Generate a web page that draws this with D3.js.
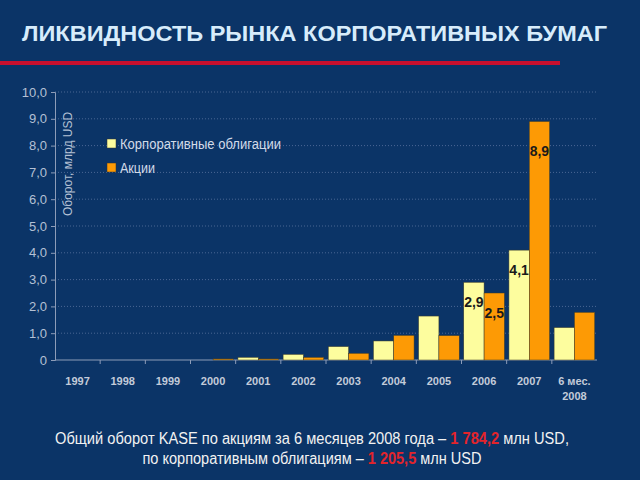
<!DOCTYPE html>
<html>
<head>
<meta charset="utf-8">
<title>Ликвидность рынка корпоративных бумаг</title>
<script src="https://cdnjs.cloudflare.com/ajax/libs/d3/7.8.5/d3.min.js"></script>
<style>
  body { margin: 0; background: #0b3467; }
  svg { display: block; font-family: "Liberation Sans", Arial, sans-serif; }
</style>
</head>
<body>
<svg id="chart" width="640" height="480"></svg>
<script>
    // data (млрд USD)
    var years = ["1997", "1998", "1999", "2000", "2001", "2002", "2003", "2004", "2005", "2006", "2007", "6 мес.|2008"];
    var bonds = [0, 0, 0, 0, 0.1, 0.21, 0.5, 0.71, 1.64, 2.9, 4.1, 1.21];
    var stocks = [0, 0, 0, 0.04, 0.04, 0.1, 0.25, 0.92, 0.91, 2.5, 8.9, 1.78];
    var bondLabels = [null, null, null, null, null, null, null, null, null, "2,9", "4,1", null];
    var stockLabels = [null, null, null, null, null, null, null, null, null, "2,5", "8,9", null];
    var yTicks = [0, 1, 2, 3, 4, 5, 6, 7, 8, 9, 10];
    var seriesNames = ["Корпоративные облигации", "Акции"];
    var colors = ["#fdfd9e", "#fd9a05"];

    var svg = d3.select("#chart");

    svg.append("rect").attr("width", 640).attr("height", 480).attr("fill", "#0b3467");

    // title + red rule
    svg.append("text")
        .attr("x", 22).attr("y", 41)
        .attr("font-size", 22).attr("font-weight", "bold")
        .attr("fill", "#d7ecfb")
        .attr("textLength", 585).attr("lengthAdjust", "spacingAndGlyphs")
        .text("ЛИКВИДНОСТЬ РЫНКА КОРПОРАТИВНЫХ БУМАГ");

    svg.append("rect").attr("x", 0).attr("y", 61).attr("width", 560).attr("height", 4).attr("fill", "#c8102e");

    var plotLeft = 55, plotRight = 597, plotTop = 92, plotBottom = 360;

    var x0 = d3.scaleBand().domain(years).range([plotLeft, plotRight]).paddingInner(0.1).paddingOuter(0.05);
    var x1 = d3.scaleBand().domain([0, 1]).range([0, x0.bandwidth()]);
    var y = d3.scaleLinear().domain([0, 10]).range([plotBottom, plotTop]);

    // dotted grid
    svg.append("g").selectAll("line").data(yTicks.filter(function(d) { return d > 0; }))
        .enter().append("line")
        .attr("x1", plotLeft).attr("x2", plotRight)
        .attr("y1", function(d) { return y(d); }).attr("y2", function(d) { return y(d); })
        .attr("stroke", "#5a74a0").attr("stroke-width", 0.8)
        .attr("stroke-dasharray", "1,2");

    // y axis
    var yAxis = d3.axisLeft(y).tickValues(yTicks).tickSize(4)
        .tickFormat(function(d) { return d === 0 ? "0" : d3.format(".1f")(d).replace(".", ","); });
    var gy = svg.append("g").attr("transform", "translate(" + plotLeft + ",0)").call(yAxis);
    gy.select(".domain").attr("stroke", "#8d9cb8");
    gy.selectAll(".tick line").attr("stroke", "#8d9cb8");
    gy.selectAll(".tick text").attr("fill", "#b4c0d4").attr("font-size", 13).attr("x", -8)
        .attr("font-family", "'Liberation Sans Narrow', 'Liberation Sans', Arial, sans-serif");

    // x axis
    var gx = svg.append("g").attr("transform", "translate(0," + plotBottom + ")");
    gx.append("line").attr("x1", plotLeft).attr("x2", plotRight).attr("stroke", "#8d9cb8");
    gx.selectAll("line.sep").data(years.slice(1)).enter().append("line")
        .attr("class", "sep")
        .attr("x1", function(d) { return x0(d) - x0.step() * x0.paddingInner() / 2; })
        .attr("x2", function(d) { return x0(d) - x0.step() * x0.paddingInner() / 2; })
        .attr("y1", 0).attr("y2", 4)
        .attr("stroke", "#8d9cb8");
    var xl = gx.selectAll("text").data(years).enter().append("text")
        .attr("x", function(d) { return x0(d) + x0.bandwidth() / 2; })
        .attr("y", 25)
        .attr("text-anchor", "middle")
        .attr("font-size", 11).attr("font-weight", "bold")
        .attr("fill", "#c3cbd9");
    xl.each(function(d) {
        var parts = d.split("|");
        var t = d3.select(this);
        parts.forEach(function(p, i) {
            t.append("tspan").attr("x", t.attr("x")).attr("dy", i === 0 ? 0 : 15).text(p);
        });
    });

    // bars
    var series = [bonds, stocks];
    var labels = [bondLabels, stockLabels];
    series.forEach(function(vals, s) {
        svg.append("g").selectAll("rect").data(vals).enter().append("rect")
            .attr("x", function(d, i) { return x0(years[i]) + x1(s); })
            .attr("width", x1.bandwidth())
            .attr("y", function(d) { return y(d); })
            .attr("height", function(d) { return plotBottom - y(d); })
            .attr("fill", colors[s])
            .attr("stroke", "#3a3a2a").attr("stroke-width", 0.5)
            .attr("opacity", function(d) { return d > 0 ? 1 : 0; });

        svg.append("g").selectAll("text").data(vals).enter().append("text")
            .attr("x", function(d, i) { return x0(years[i]) + x1(s) + x1.bandwidth() / 2; })
            .attr("y", function(d) { return y(d) + (d > 5 ? 35 : 25); })
            .attr("text-anchor", "middle")
            .attr("font-size", 14).attr("font-weight", "bold")
            .attr("fill", "#1a1a1a")
            .text(function(d, i) { return labels[s][i] || ""; });
    });

    // y title
    svg.append("text")
        .attr("transform", "translate(72,164) rotate(-90)")
        .attr("text-anchor", "middle")
        .attr("font-size", 12).attr("fill", "#b4c0d4")
        .text("Оборот, млрд USD");

    // legend
    var lg = svg.append("g").selectAll("g").data(seriesNames).enter().append("g")
        .attr("transform", function(d, i) { return "translate(107," + (139 + i * 24) + ")"; });
    lg.append("rect").attr("width", 9).attr("height", 9)
        .attr("fill", function(d, i) { return colors[i]; })
        .attr("stroke", "#333").attr("stroke-width", 0.5);
    lg.append("text").attr("x", 13).attr("y", 10)
        .attr("font-size", 14).attr("fill", "#d2dae8")
        .attr("textLength", function(d) { return d.length * 7; }).attr("lengthAdjust", "spacingAndGlyphs")
        .text(function(d) { return d; });

    // footnote
    var note1 = svg.append("text").attr("x", 312).attr("y", 444).attr("text-anchor", "middle")
        .attr("font-size", 16).attr("fill", "#f2f2f2")
        .attr("textLength", 514).attr("lengthAdjust", "spacingAndGlyphs");
    note1.append("tspan").text("Общий оборот KASE по акциям за 6 месяцев 2008 года – ");
    note1.append("tspan").attr("fill", "#e3242b").attr("font-weight", "bold").text("1 784,2");
    note1.append("tspan").text(" млн USD,");

    var note2 = svg.append("text").attr("x", 312).attr("y", 464).attr("text-anchor", "middle")
        .attr("font-size", 16).attr("fill", "#f2f2f2")
        .attr("textLength", 339).attr("lengthAdjust", "spacingAndGlyphs");
    note2.append("tspan").text("по корпоративным облигациям – ");
    note2.append("tspan").attr("fill", "#e3242b").attr("font-weight", "bold").text("1 205,5");
    note2.append("tspan").text(" млн USD");
</script>
</body>
</html>
